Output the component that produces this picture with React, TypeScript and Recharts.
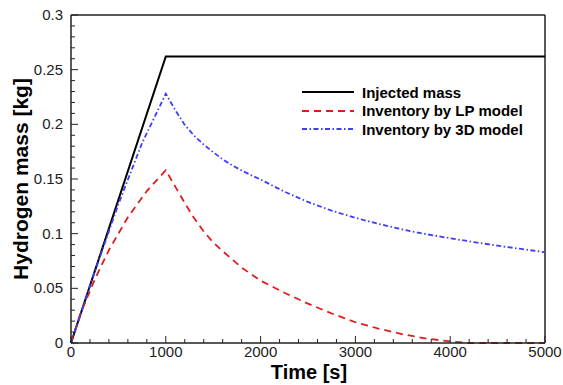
import { LineChart, Line, XAxis, YAxis, ReferenceLine, Legend } from "recharts";

// Injected mass (black solid)
const injectedTime = [0, 1000, 5000];
const injectedMass = [0, 0.262, 0.262];

// Inventory by LP model (red dashed)
const lpTime = [0, 100, 250, 400, 600, 800, 1000, 1100, 1200, 1300, 1400, 1500, 1600, 1800, 2000, 2250, 2500, 2750, 3000, 3250, 3500, 3750, 4000, 4200, 5000];
const lpMass = [0, 0.027, 0.058, 0.085, 0.115, 0.139, 0.158, 0.143, 0.128, 0.114, 0.102, 0.092, 0.084, 0.069, 0.057, 0.046, 0.036, 0.027, 0.019, 0.013, 0.008, 0.004, 0.0015, 0, 0];

// Inventory by 3D model (blue dash-dot)
const cfdTime = [0, 250, 500, 750, 1000, 1100, 1200, 1300, 1400, 1500, 1600, 1700, 1800, 1900, 2000, 2250, 2500, 2750, 3000, 3250, 3500, 3750, 4000, 4250, 4500, 4750, 5000];
const cfdMass = [0, 0.065, 0.127, 0.183, 0.228, 0.213, 0.1995, 0.1895, 0.1815, 0.1745, 0.168, 0.1625, 0.1578, 0.1535, 0.1495, 0.1385, 0.129, 0.121, 0.1145, 0.1088, 0.1038, 0.0995, 0.0958, 0.0923, 0.089, 0.086, 0.083];

const xTicks = Array.from({ length: 26 }, (_, i) => i * 200);
const yTicks = Array.from({ length: 31 }, (_, i) => i / 100);

const toPoints = (ts: number[], vs: number[]) => ts.map((t, i) => ({ t, v: vs[i] }));

const series = [
  { name: "Injected mass", data: toPoints(injectedTime, injectedMass), color: "#000000", dash: undefined },
  { name: "Inventory by LP model", data: toPoints(lpTime, lpMass), color: "#e01b1b", dash: "7 5" },
  { name: "Inventory by 3D model", data: toPoints(cfdTime, cfdMass), color: "#3d3dff", dash: "5 2.5 1.5 2.5" },
];

const FONT = '"Liberation Sans", Arial, sans-serif';
const AXIS = "#222";

function XTick(props: any) {
  const { x, y, payload } = props;
  const v = payload.value;
  const major = v % 1000 === 0;
  return (
    <g>
      <line x1={x} x2={x} y1={y} y2={y - (major ? 7 : 4)} stroke={AXIS} strokeWidth={1} />
      {major && (
        <text x={x} y={y + 14} textAnchor="middle" fontSize={15} fontFamily={FONT} fill={AXIS}>
          {v}
        </text>
      )}
    </g>
  );
}

function YTick(props: any) {
  const { x, y, payload } = props;
  const v = payload.value;
  const major = Math.round(v * 100) % 5 === 0;
  return (
    <g>
      <line x1={x} x2={x + (major ? 7 : 4)} y1={y} y2={y} stroke={AXIS} strokeWidth={1} />
      {major && (
        <text x={x - 8} y={y + 5} textAnchor="end" fontSize={15} fontFamily={FONT} fill={AXIS}>
          {String(Math.round(v * 100) / 100)}
        </text>
      )}
    </g>
  );
}

const renderLegend = () => (
  <div style={{ fontFamily: FONT }}>
    {series.map((s) => (
      <div key={s.name} style={{ display: "flex", alignItems: "center", height: 18.5 }}>
        <svg width={52} height={6} style={{ display: "block" }}>
          <line x1={0} x2={52} y1={3} y2={3} stroke={s.color} strokeWidth={2} strokeDasharray={s.dash} />
        </svg>
        <span style={{ marginLeft: 8, fontSize: 15, fontWeight: 700, color: "#000" }}>{s.name}</span>
      </div>
    ))}
  </div>
);

export default function App() {
  return (
    <div style={{ position: "absolute", left: 0, top: 0, width: 563, height: 385, background: "#fff" }}>
      <LineChart width={563} height={385} margin={{ top: 15, right: 18, bottom: 0, left: 0 }}>
        <XAxis
          dataKey="t"
          type="number"
          domain={[0, 5000]}
          ticks={xTicks}
          interval={0}
          height={42}
          tickSize={0}
          tickMargin={0}
          tickLine={false}
          tick={<XTick />}
          axisLine={{ stroke: AXIS, strokeWidth: 1.5 }}
          allowDuplicatedCategory={false}
        />
        <YAxis
          dataKey="v"
          type="number"
          domain={[0, 0.3]}
          ticks={yTicks}
          interval={0}
          width={71}
          tickSize={0}
          tickMargin={0}
          tickLine={false}
          tick={<YTick />}
          axisLine={{ stroke: AXIS, strokeWidth: 1.5 }}
        />
        <ReferenceLine y={0.3} stroke={AXIS} strokeWidth={1.5} />
        <ReferenceLine x={5000} stroke={AXIS} strokeWidth={1.5} />
        {series.map((s) => (
          <Line
            key={s.name}
            data={s.data}
            dataKey="v"
            name={s.name}
            type="linear"
            stroke={s.color}
            strokeWidth={s.dash ? 1.8 : 2}
            strokeDasharray={s.dash}
            dot={false}
            activeDot={false}
            isAnimationActive={false}
          />
        ))}
        <Legend
          layout="vertical"
          align="center"
          verticalAlign="middle"
          content={renderLegend}
          wrapperStyle={{ left: 302, top: 83, width: 250 }}
        />
        <text
          x={20}
          y={179}
          transform="rotate(-90 20 179)"
          textAnchor="middle"
          dominantBaseline="central"
          fontSize={21}
          fontWeight={700}
          fontFamily={FONT}
          fill="#000"
        >
          Hydrogen mass [kg]
        </text>
        <text x={309} y={379} textAnchor="middle" fontSize={20} fontWeight={700} fontFamily={FONT} fill="#000">
          Time [s]
        </text>
      </LineChart>
    </div>
  );
}
